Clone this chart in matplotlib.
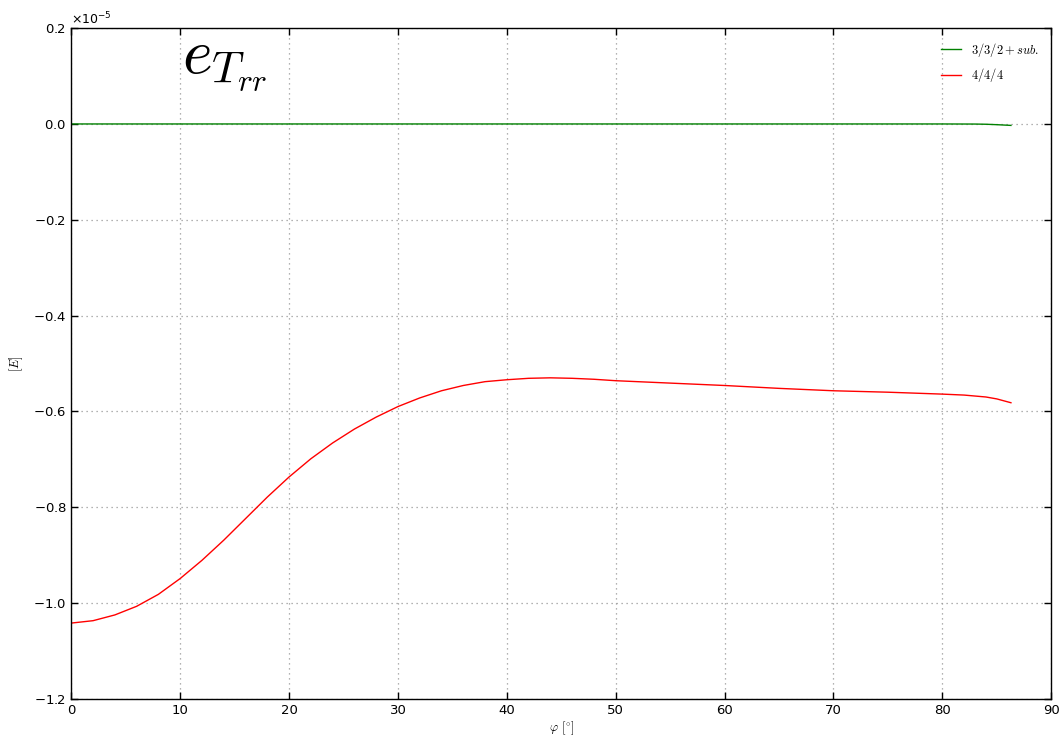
import matplotlib
matplotlib.use("Agg")
import numpy as np
import matplotlib.pyplot as plt
from matplotlib.ticker import ScalarFormatter

# values, in units of 1e-5
phi_green = [0, 10, 20, 30, 40, 50, 60, 70, 80, 83, 84, 85, 86.3]
e_green = [0, 0, 0, 0, 0, 0, 0, 0, 0, -0.0002, -0.0006, -0.0015, -0.003]

phi_red = [0, 2, 4, 6, 8, 10, 12, 14, 16, 18, 20, 22, 24, 26, 28, 30, 32, 34, 36,
           38, 40, 42, 44, 46, 48, 50, 55, 60, 65, 70, 75, 80, 82, 84, 85, 86.3]
e_red = [-1.042, -1.037, -1.025, -1.007, -0.982, -0.949, -0.911, -0.869, -0.824,
         -0.779, -0.737, -0.699, -0.666, -0.637, -0.612, -0.590, -0.572, -0.557,
         -0.546, -0.538, -0.534, -0.531, -0.530, -0.531, -0.533, -0.536, -0.541,
         -0.546, -0.552, -0.557, -0.560, -0.564, -0.566, -0.570, -0.574, -0.582]

scale = 1e-5

fig = plt.figure(figsize=(10.64, 7.41), dpi=100)
ax = fig.add_axes([0.067, 0.057, 0.921, 0.905])

ax.plot(phi_green, np.array(e_green) * scale, color="green", lw=1.0, label=r"$3/3/2+sub.$")
ax.plot(phi_red, np.array(e_red) * scale, color="red", lw=1.0, label=r"$4/4/4$")

ax.set_xlim(0, 90)
ax.set_ylim(-1.2e-5, 0.2e-5)
ax.set_xticks(np.arange(0, 91, 10))
ax.set_yticks(np.arange(-1.2, 0.21, 0.2) * scale)

fmt = ScalarFormatter(useMathText=True)
fmt.set_powerlimits((0, 0))
ax.yaxis.set_major_formatter(fmt)
ax.yaxis.get_offset_text().set_fontsize(9)

ax.tick_params(direction="in", top=True, right=True, length=5, width=1, labelsize=9.5)
ax.grid(True, linestyle=(0, (1, 3)), color="#999999", lw=0.9)
for s in ax.spines.values():
    s.set_linewidth(1.0)

ax.set_xlabel(r"$\varphi$ $[^{\circ}]$", fontsize=9, math_fontfamily="cm", labelpad=2)
ax.set_ylabel(r"$[E]$", fontsize=9, math_fontfamily="cm", labelpad=6)

ax.text(0.113, 0.934, r"$e_{T_{rr}}$", transform=ax.transAxes, fontsize=46,
        math_fontfamily="cm", va="baseline", ha="left")

leg = ax.legend(loc="upper right", frameon=False, fontsize=9, handlelength=1.6,
                labelspacing=0.6, borderaxespad=0.6)
for t in leg.get_texts():
    t.set_math_fontfamily("cm")

fig.savefig("out.png", dpi=100)
